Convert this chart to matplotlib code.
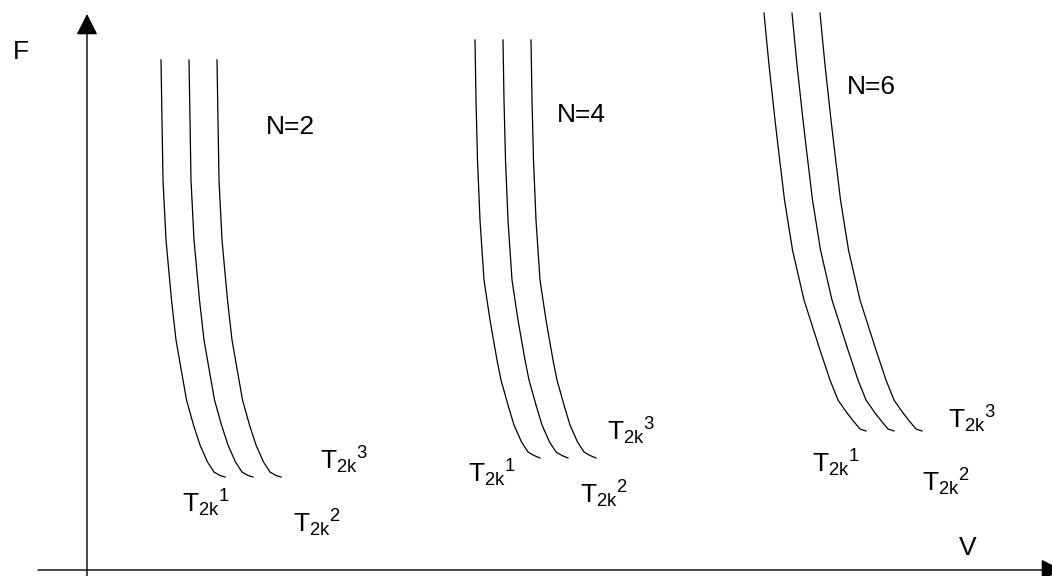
'''F-V schematic: three families of T_2k curves for N=2, 4, 6'''
import numpy as np
import matplotlib
matplotlib.use('Agg')
import matplotlib.pyplot as plt
from matplotlib import rcParams
params = {'font.family': 'Liberation Sans', 'font.size': 19,
          'mathtext.fontset': 'custom', 'mathtext.rm': 'Liberation Sans',
          'mathtext.it': 'Liberation Sans'}
rcParams.update(params)

# base curve (T_2k^1) of each family (V, F)
n2_v = [74, 75, 76, 79, 84.5, 89, 96, 99.5, 106.5, 113, 120.5, 127, 133, 138]
n2_f = [510, 450, 390, 330, 270, 230, 190, 170, 145, 125, 108, 98, 94.5, 93]
n4_v = [388, 389, 390.5, 393, 397, 403, 410, 414, 421, 427, 434.5, 441, 447, 453]
n4_f = [530, 470, 410, 350, 290, 250, 210, 190, 165, 145, 128, 118, 114.5, 112]
n6_v = [677, 682, 688, 691.5, 697.5, 705.5, 717, 733, 743, 751, 760, 768, 773, 779]
n6_f = [557, 505, 450, 420, 370, 320, 270, 220, 190, 170, 157, 147, 141, 139]
t_shift = [0, 28, 56]  # V offset of T_2k^1, T_2k^2, T_2k^3

n_names = ['N=2', 'N=4', 'N=6']
n_pos = [(179, 436), (470, 448), (760, 476)]
t_names = [r'$\mathregular{T_{2k}{}^{1}}$', r'$\mathregular{T_{2k}{}^{2}}$', r'$\mathregular{T_{2k}{}^{3}}$']
t_pos = [[(95, 58), (206, 38), (233, 101)],
         [(381, 88), (493, 67), (520, 130)],
         [(725, 98), (835, 79), (861, 142)]]

fig = plt.figure(figsize=(10.52, 5.76), dpi=100)
ax = fig.add_axes([0, 0, 1, 1])
ax.set_xlim(-87, 965)
ax.set_ylim(-6, 570)
ax.axis('off')

# axes with arrows
arr = dict(arrowstyle='-|>,head_length=0.65,head_width=0.33', mutation_scale=20,
           color='black', lw=1.0, shrinkA=0, shrinkB=0)
ax.annotate('', xy=(0, 556), xytext=(0, -8), arrowprops=arr, annotation_clip=False)
ax.annotate('', xy=(975, 0), xytext=(-49, 0), arrowprops=arr, annotation_clip=False)
ax.text(-74, 511, 'F', ha='left', va='baseline')
ax.text(872, 15, 'V', ha='left', va='baseline')

fam = [(n2_v, n2_f), (n4_v, n4_f), (n6_v, n6_f)]
for i in range(len(fam)):
    v, f = fam[i]
    for s in t_shift:
        ax.plot(np.array(v) + s, f, color='black', lw=0.9, solid_joinstyle='round')
    ax.text(n_pos[i][0], n_pos[i][1], n_names[i], ha='left', va='baseline')
    for j in range(3):
        ax.text(t_pos[i][j][0], t_pos[i][j][1], t_names[j], ha='left', va='baseline')

plt.savefig('out.png', dpi=100)
